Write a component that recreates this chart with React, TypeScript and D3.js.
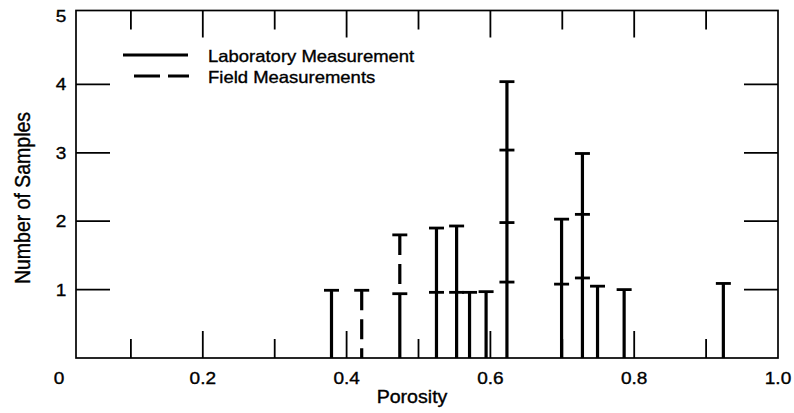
import React from "react";
import * as d3 from "d3";

const labPorosity = [0.379, 0.474, 0.525, 0.553, 0.571, 0.594, 0.623, 0.699, 0.728, 0.749, 0.786, 0.924];
const labLevels = [
  [0.99],
  [0.94],
  [0.96, 1.9],
  [0.96, 1.93],
  [0.96],
  [0.97],
  [1.11, 1.98, 3.04, 4.04],
  [1.08, 2.03],
  [1.17, 2.1, 2.99],
  [1.05],
  [1.0],
  [1.09],
];
// Field measurement bars (dashed): position, base and levels
const fieldPorosity = [0.421, 0.474];
const fieldBase = [0, 0.94];
const fieldLevels = [[0.99], [1.8]];

const xTicks = [0.1, 0.2, 0.3, 0.4, 0.5, 0.6, 0.7, 0.8, 0.9];
const xLabels = [0, 0.2, 0.4, 0.6, 0.8, 1.0];
const yTicks = [1, 2, 3, 4];
const yLabels = [1, 2, 3, 4, 5];
const legendItems = ["Laboratory Measurement", "Field Measurements"];

const W = 794;
const H = 413;
const frame = { left: 76, right: 778, top: 10.5, bottom: 358 };

export default function App() {
  const x = d3.scaleLinear().domain([0, 1]).range([59, 778]);
  const y = d3.scaleLinear().domain([0, 5]).range([358, 16]);
  const font = "'Liberation Sans', Arial, Helvetica, sans-serif";
  const sx = 1.12;
  const capW = 7.5;
  const fmt = (v: number) => (v === 0 ? "0" : d3.format(".1f")(v));
  const isLong = (v: number) => Math.abs(Math.round(v * 10) % 2) === 0;
  const txt = { fontFamily: font, fill: "#000", stroke: "#000", strokeWidth: 0.35 };

  return (
    <svg width={W} height={H} style={{ position: "absolute", left: 0, top: 0, background: "#fff" }}>
      <rect x={0} y={0} width={W} height={H} fill="#fff" />
      {/* frame */}
      <rect
        x={frame.left}
        y={frame.top}
        width={frame.right - frame.left}
        height={frame.bottom - frame.top}
        fill="none"
        stroke="#000"
        strokeWidth={1.7}
      />
      {/* x ticks top & bottom */}
      {xTicks.map((t) => {
        const len = isLong(t) ? 27 : 19;
        return (
          <g key={"xt" + t}>
            <line x1={x(t)} x2={x(t)} y1={frame.top} y2={frame.top + len} stroke="#000" strokeWidth={1.8} />
            <line x1={x(t)} x2={x(t)} y1={frame.bottom} y2={frame.bottom - len} stroke="#000" strokeWidth={1.8} />
          </g>
        );
      })}
      {/* y ticks left & right */}
      {yTicks.map((t) => (
        <g key={"yt" + t}>
          <line x1={frame.left} x2={frame.left + 34} y1={y(t)} y2={y(t)} stroke="#000" strokeWidth={1.7} />
          <line x1={frame.right - 34} x2={frame.right} y1={y(t)} y2={y(t)} stroke="#000" strokeWidth={1.7} />
        </g>
      ))}
      {/* tick labels */}
      {xLabels.map((v) => (
        <text
          key={"xl" + v}
          transform={`translate(${x(v)},384) scale(${sx},1)`}
          textAnchor="middle"
          fontSize={17}
          {...txt}
        >
          {fmt(v)}
        </text>
      ))}
      {yLabels.map((v) => (
        <text
          key={"yl" + v}
          transform={`translate(61,${y(v) + 6}) scale(${sx},1)`}
          textAnchor="middle"
          fontSize={17}
          {...txt}
        >
          {v}
        </text>
      ))}
      {/* axis titles */}
      <text transform={`translate(412,403) scale(${sx},1)`} textAnchor="middle" fontSize={17.5} {...txt}>
        Porosity
      </text>
      <text
        transform={`translate(30,198) rotate(-90) scale(1,${sx})`}
        textAnchor="middle"
        fontSize={19.5}
        {...txt}
      >
        Number of Samples
      </text>
      {/* legend */}
      <line x1={123} x2={188} y1={55} y2={55} stroke="#000" strokeWidth={3} />
      <text transform={`translate(208,62) scale(${sx},1)`} fontSize={16.5} {...txt}>
        {legendItems[0]}
      </text>
      <line x1={134} x2={189} y1={76} y2={76} stroke="#000" strokeWidth={3} strokeDasharray="26,8" />
      <text transform={`translate(208,83) scale(${sx},1)`} fontSize={16.5} {...txt}>
        {legendItems[1]}
      </text>
      {/* lab bars */}
      {labPorosity.map((p, i) => {
        const lv = labLevels[i];
        const top = lv[lv.length - 1];
        return (
          <g key={"lab" + i}>
            <line x1={x(p)} x2={x(p)} y1={y(0)} y2={y(top)} stroke="#000" strokeWidth={3.2} />
            {lv.map((l, j) => (
              <line
                key={j}
                x1={x(p) - capW}
                x2={x(p) + capW}
                y1={y(l)}
                y2={y(l)}
                stroke="#000"
                strokeWidth={2.8}
              />
            ))}
          </g>
        );
      })}
      {/* field bars */}
      {fieldPorosity.map((p, i) => {
        const lv = fieldLevels[i];
        const top = lv[lv.length - 1];
        return (
          <g key={"field" + i}>
            <line
              x1={x(p)}
              x2={x(p)}
              y1={y(top)}
              y2={y(fieldBase[i])}
              stroke="#000"
              strokeWidth={3.2}
              strokeDasharray="20,9"
            />
            {lv.map((l, j) => (
              <line
                key={j}
                x1={x(p) - capW}
                x2={x(p) + capW}
                y1={y(l)}
                y2={y(l)}
                stroke="#000"
                strokeWidth={2.8}
              />
            ))}
          </g>
        );
      })}
    </svg>
  );
}
